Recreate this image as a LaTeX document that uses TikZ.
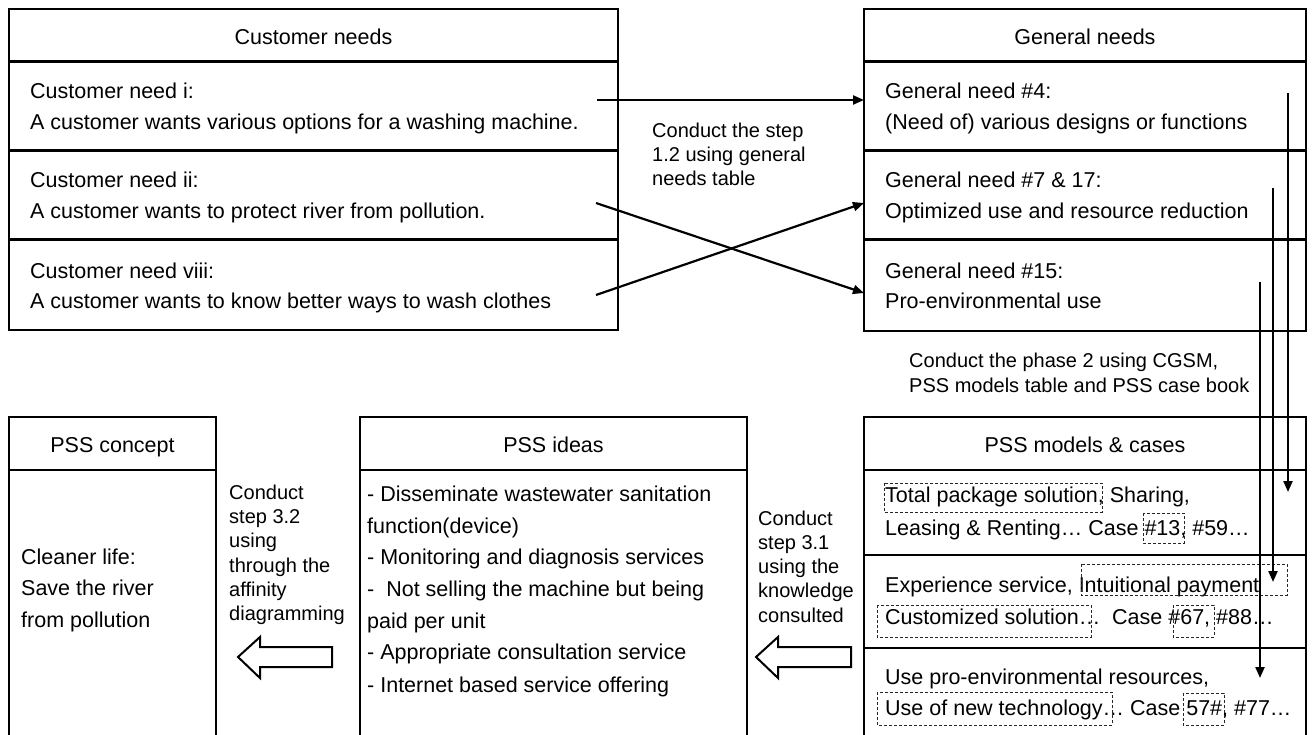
\documentclass[tikz,border=0pt]{standalone}
\usepackage{fontspec}
\setmainfont{Liberation Sans}
\usetikzlibrary{arrows.meta}
\begin{document}
\begin{tikzpicture}[x=1pt,y=-1pt,
  box/.style={line width=2.4pt, line join=miter},
  txt/.style={anchor=base west, inner sep=0pt, font=\fontsize{21.5}{26}\selectfont},
  hdr/.style={anchor=base, inner sep=0pt, font=\fontsize{21.5}{26}\selectfont},
  lbl/.style={anchor=base west, inner sep=0pt, font=\fontsize{20}{24}\selectfont},
  conn/.style={line width=2.2pt, -{Triangle[length=11pt,width=9pt]}},
  dbox/.style={line width=1pt, dash pattern=on 3pt off 2pt, black!85},
  blockarrow/.style={line width=2pt, fill=white, line join=miter}]
\useasboundingbox (0,0) rectangle (1314,735);
\fill[white] (0,0) rectangle (1314,735);

% ---------- Customer needs ----------
\draw[box] (9,9) rectangle (618,330);
\draw[box] (9,61.5)--(618,61.5) (9,150.5)--(618,150.5) (9,239.5)--(618,239.5);
\node[hdr] (cnh) at (313.5,44.5) {Customer needs};
\node[txt] (cn1a) at (30,98.5) {Customer need i:};
\node[txt] (cn1b) at (30,129.5) {A customer wants various options for a washing machine.};
\node[txt] (cn2a) at (30,187.5) {Customer need ii:};
\node[txt] (cn2b) at (30,218.5) {A customer wants to protect river from pollution.};
\node[txt] (cn3a) at (30,278.5) {Customer need viii:};
\node[txt] (cn3b) at (30,308.5) {A customer wants to know better ways to wash clothes};

% ---------- General needs ----------
\draw[box] (864,9) rectangle (1306,331);
\draw[box] (864,61.5)--(1306,61.5) (864,150.5)--(1306,150.5) (864,239.5)--(1306,239.5);
\node[hdr] (gnh) at (1085,44.5) {General needs};
\node[txt] (gn1a) at (885,98.5) {General need \#4:};
\node[txt] (gn1b) at (885,129.5) {(Need of) various designs or functions};
\node[txt] (gn2a) at (885,187.5) {General need \#7 \& 17:};
\node[txt] (gn2b) at (885,218.5) {Optimized use and resource reduction};
\node[txt] (gn3a) at (885,278.5) {General need \#15:};
\node[txt] (gn3b) at (885,308.5) {Pro-environmental use};

% label step 1.2
\node[lbl] (l1a) at (652,138) {Conduct the step};
\node[lbl] (l1b) at (652,162) {1.2 using general};
\node[lbl] (l1c) at (652,185.5) {needs table};

% connectors top
\coordinate (a1s) at (597,100);  \coordinate (a1e) at (864,100);
\coordinate (a2s) at (596,203);  \coordinate (a2e) at (864,293);
\coordinate (a3s) at (596,295);  \coordinate (a3e) at (864,203);
\draw[conn] (a1s) -- (a1e);
\draw[conn] (a2s) -- (a2e);
\draw[conn] (a3s) -- (a3e);

% phase 2 label
\node[lbl] (l4a) at (909,367) {Conduct the phase 2 using CGSM,};
\node[lbl] (l4b) at (909,392) {PSS models table and PSS case book};

% ---------- PSS concept ----------
\draw[box] (9,735) -- (9,417) -- (216,417) -- (216,735);
\draw[box] (9,470) -- (216,470);
\node[hdr] (pch) at (112.5,452.5) {PSS concept};
\node[txt] (pc1) at (21,564.5) {Cleaner life:};
\node[txt] (pc2) at (21,595.5) {Save the river};
\node[txt] (pc3) at (21,627) {from pollution};

% label step 3.2
\node[lbl] (l2a) at (229,499) {Conduct};
\node[lbl] (l2b) at (229,523) {step 3.2};
\node[lbl] (l2c) at (229,547) {using};
\node[lbl] (l2d) at (229,572) {through the};
\node[lbl] (l2e) at (229,596) {affinity};
\node[lbl] (l2f) at (229,620) {diagramming};

\draw[blockarrow] (238,657) -- (260,637) -- (260,647) -- (332,647) -- (332,667) -- (260,667) -- (260,678) -- cycle;

% ---------- PSS ideas ----------
\draw[box] (360,735) -- (360,417) -- (747,417) -- (747,735);
\draw[box] (360,470) -- (747,470);
\node[hdr] (pih) at (553.5,452.5) {PSS ideas};
\node[txt] (pi1) at (367,501.5) {- Disseminate wastewater sanitation};
\node[txt] (pi2) at (367,533.5) {function(device)};
\node[txt] (pi3) at (367,564.5) {- Monitoring and diagnosis services};
\node[txt] (pi4) at (367,596.5) {-\ \ Not selling the machine but being};
\node[txt] (pi5) at (367,628.5) {paid per unit};
\node[txt] (pi6) at (367,659.5) {- Appropriate consultation service};
\node[txt] (pi7) at (367,692) {- Internet based service offering};

% label step 3.1
\node[lbl] (l3a) at (758,525) {Conduct};
\node[lbl] (l3b) at (758,549) {step 3.1};
\node[lbl] (l3c) at (758,573) {using the};
\node[lbl] (l3d) at (758,597) {knowledge};
\node[lbl] (l3e) at (758,622) {consulted};

\draw[blockarrow] (756,657) -- (778,637) -- (778,647) -- (851,647) -- (851,667) -- (778,667) -- (778,678) -- cycle;

% ---------- PSS models & cases ----------
\draw[box] (864,735) -- (864,417) -- (1306,417) -- (1306,735);
\draw[box] (864,470)--(1306,470) (864,555)--(1306,555) (864,648)--(1306,648);
\node[hdr] (pmh) at (1085,452.5) {PSS models \& cases};
\node[txt] (pm1a) at (885,502.5) {Total package solution, Sharing,};
\node[txt] (pm1b) at (885,535.5) {Leasing \& Renting… Case \#13, \#59…};
\node[txt] (pm2a) at (885,592.5) {Experience service, Intuitional payment};
\node[txt] (pm2b) at (885,624.5) {Customized solution…\ \ Case \#67, \#88…};
\node[txt] (pm3a) at (885,684.5) {Use pro-environmental resources,};
\node[txt] (pm3b) at (885,715.5) {Use of new technology… Case 57\#, \#77…};

% dashed highlight boxes
\draw[dbox] (884,483) rectangle (1102,512);
\draw[dbox] (1143,513) rectangle (1184,543);
\draw[dbox] (1081,564) rectangle (1287,595);
\draw[dbox] (877,605) rectangle (1091,637);
\draw[dbox] (1173,605) rectangle (1214,637);
\draw[dbox] (877,692) rectangle (1112,725);
\draw[dbox] (1183,693) rectangle (1224,725);

% vertical connectors
\coordinate (v1s) at (1288,93);  \coordinate (v1e) at (1288,492);
\coordinate (v2s) at (1273,188); \coordinate (v2e) at (1273,582);
\coordinate (v3s) at (1260,282); \coordinate (v3e) at (1260,678);
\draw[conn] (v1s) -- (v1e);
\draw[conn] (v2s) -- (v2e);
\draw[conn] (v3s) -- (v3e);
\end{tikzpicture}
\end{document}
